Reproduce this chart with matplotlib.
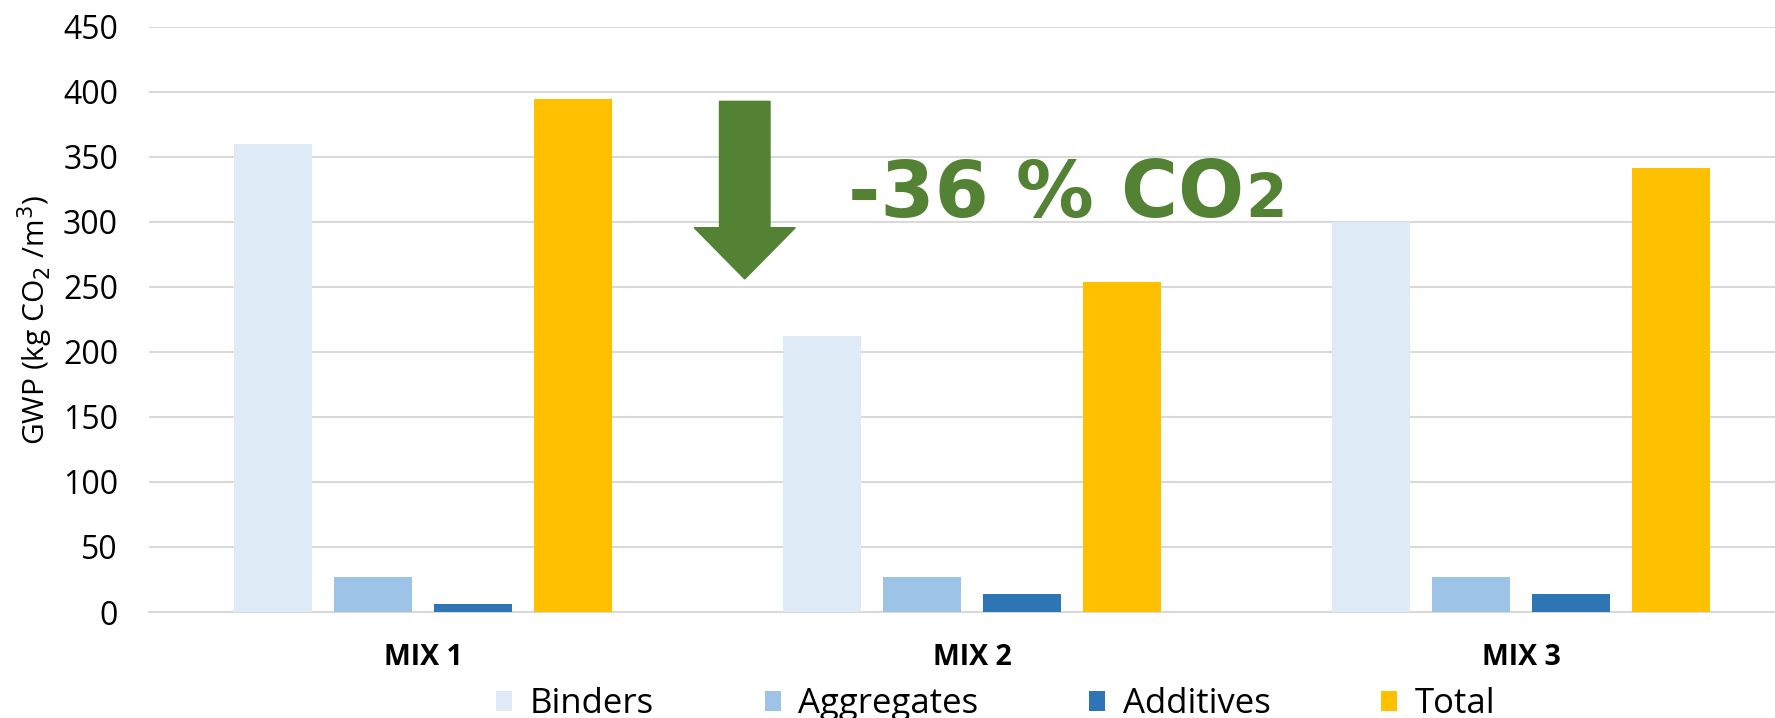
import numpy as np
import matplotlib.pyplot as plt
from matplotlib.patches import Polygon

plt.rcParams['font.family'] = ['Open Sans', 'DejaVu Sans']

mixes = ['MIX 1', 'MIX 2', 'MIX 3']
series = ['Binders', 'Aggregates', 'Additives', 'Total']
binders = [360, 212, 300]
aggregates = [27, 27, 27]
additives = [6, 14, 14]
total = [394, 254, 341]
colors = ['#DEEAF6', '#9DC3E6', '#2E75B6', '#FFC000']

fig = plt.figure(figsize=(17.75, 7.18), dpi=100)
ax = fig.add_axes([0.0837, 0.1476, 1 - 0.0837, 0.963 - 0.1476])

x = np.arange(len(mixes))
step = 0.182
width = 0.142
for i, (name, vals) in enumerate(zip(series, [binders, aggregates, additives, total])):
    ax.bar(x + (i - 1.5) * step, vals, width, color=colors[i], label=name, zorder=3)

ax.set_xlim(-0.5, 2.4627)
ax.set_ylim(0, 450)
ax.set_yticks(np.arange(0, 451, 50))
ax.yaxis.grid(True, color='#D9D9D9', linewidth=1.5, zorder=0)
ax.set_axisbelow(True)
for s in ['left', 'right', 'top']:
    ax.spines[s].set_visible(False)
ax.spines['bottom'].set_color('#D9D9D9')
ax.spines['bottom'].set_linewidth(1.5)
ax.tick_params(axis='both', length=0)
ax.tick_params(axis='y', labelsize=23, pad=22)
ax.set_xticks(x)
ax.set_xticklabels(mixes, fontsize=20.5, fontweight='bold')
ax.tick_params(axis='x', pad=22)
ax.set_ylabel('GWP (kg CO$_2$ /m$^3$)', fontsize=21.5, labelpad=6)

# reduction arrow between MIX 1 and MIX 2
shaft_l, shaft_r, head_l, head_r = 0.540, 0.632, 0.494, 0.678
top, base, tip = 392.5, 295.4, 256
arrow = Polygon([(shaft_l, top), (shaft_r, top), (shaft_r, base), (head_r, base),
                 ((head_l + head_r) / 2, tip), (head_l, base), (shaft_l, base)],
                closed=True, color='#548235', zorder=4)
ax.add_patch(arrow)

t = ax.text(0.774, 304, '-36 % CO', color='#548235', fontsize=56, fontweight='bold',
            family='DejaVu Sans', ha='left', va='baseline', zorder=5)
fig.canvas.draw()
bb = t.get_window_extent()
x2 = ax.transData.inverted().transform((bb.x1 + 1, 0))[0]
ax.text(x2, 304, '2', color='#548235', fontsize=43, fontweight='bold',
        family='DejaVu Sans', ha='left', va='baseline', zorder=5)

fig.legend(loc='center', bbox_to_anchor=(0.561, 0.019), ncol=4, frameon=False,
           fontsize=25, handlelength=0.46, handleheight=0.52, handletextpad=0.5,
           columnspacing=3.2)

fig.savefig('out.png', dpi=100)
